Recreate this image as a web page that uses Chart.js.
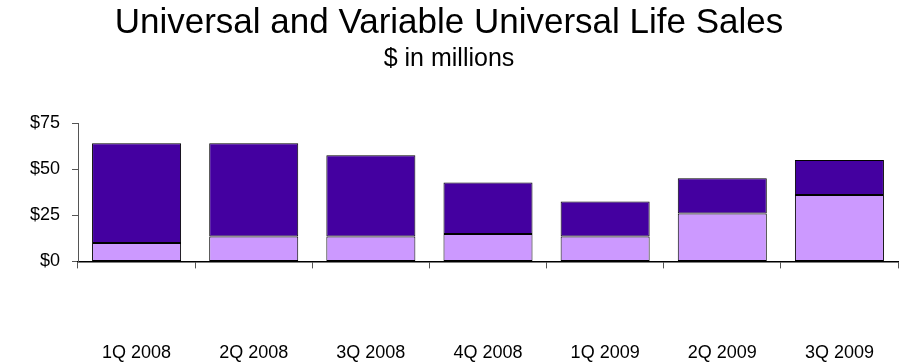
<!DOCTYPE html>
<html>
<head>
<meta charset="utf-8">
<script src="https://cdn.jsdelivr.net/npm/chart.js@4/dist/chart.umd.min.js"></script>
<style>
    html, body { margin: 0; padding: 0; background: #fff; overflow: hidden; }
    canvas { display: block; }
</style>
</head>
<body>
<canvas id="salesChart" width="904" height="364"></canvas>
<script>
const quarters = ["1Q 2008", "2Q 2008", "3Q 2008", "4Q 2008", "1Q 2009", "2Q 2009", "3Q 2009"];
const lowerSales = [10, 13.5, 13.5, 14.8, 13.5, 26, 36];
const upperSales = [54, 50.5, 44, 28, 19, 19, 19];
const yTicks = [0, 25, 50, 75];

document.addEventListener("DOMContentLoaded", () => {

    const font = "'Liberation Sans', Arial, sans-serif";
    Chart.defaults.font.family = font;
    Chart.defaults.color = "#000";

    const barStyle = {
        borderColor: "#000",
        borderWidth: 1,
        borderSkipped: false,
        categoryPercentage: 1,
        barPercentage: 0.76
    };

    new Chart(document.getElementById("salesChart"), {
        type: "bar",
        data: {
            labels: quarters,
            datasets: [
                { data: lowerSales, backgroundColor: "#cc99ff", ...barStyle },
                { data: upperSales, backgroundColor: "#4400a0", ...barStyle }
            ]
        },
        options: {
            responsive: false,
            animation: false,
            layout: { padding: { right: 6, bottom: 0 } },
            plugins: {
                legend: { display: false },
                tooltip: { enabled: false },
                title: {
                    display: true,
                    text: "Universal and Variable Universal Life Sales",
                    font: { size: 35, weight: "normal" },
                    padding: { top: 2, bottom: 0 }
                },
                subtitle: {
                    display: true,
                    text: "$ in millions",
                    color: "#000",
                    font: { size: 25, weight: "normal" },
                    padding: { top: 0, bottom: 49 }
                }
            },
            scales: {
                // axis line and tick marks only
                x: {
                    stacked: true,
                    weight: 0,
                    afterFit: (scale) => { scale.height = 73; },
                    grid: {
                        offset: true,
                        drawOnChartArea: false,
                        tickLength: 7,
                        color: "#555"
                    },
                    border: { color: "#000", width: 1.5 },
                    ticks: { display: false }
                },
                // quarter labels, set well below the axis
                quarterLabels: {
                    type: "category",
                    position: "bottom",
                    weight: 1,
                    labels: quarters,
                    offset: true,
                    grid: { display: false },
                    border: { display: false },
                    ticks: {
                        padding: 0,
                        font: { size: 18 },
                        maxRotation: 0,
                        autoSkip: false
                    }
                },
                y: {
                    stacked: true,
                    min: 0,
                    max: 75,
                    afterFit: (scale) => { scale.width = 78; },
                    afterBuildTicks: (scale) => {
                        scale.ticks = yTicks.map(v => ({ value: v }));
                    },
                    grid: {
                        drawOnChartArea: false,
                        tickLength: 6,
                        color: "#555"
                    },
                    border: { color: "#555", width: 1 },
                    ticks: {
                        padding: 12,
                        autoSkip: false,
                        font: { size: 18 },
                        callback: (v) => "$" + v
                    }
                }
            }
        }
    });

});
</script>
</body>
</html>
